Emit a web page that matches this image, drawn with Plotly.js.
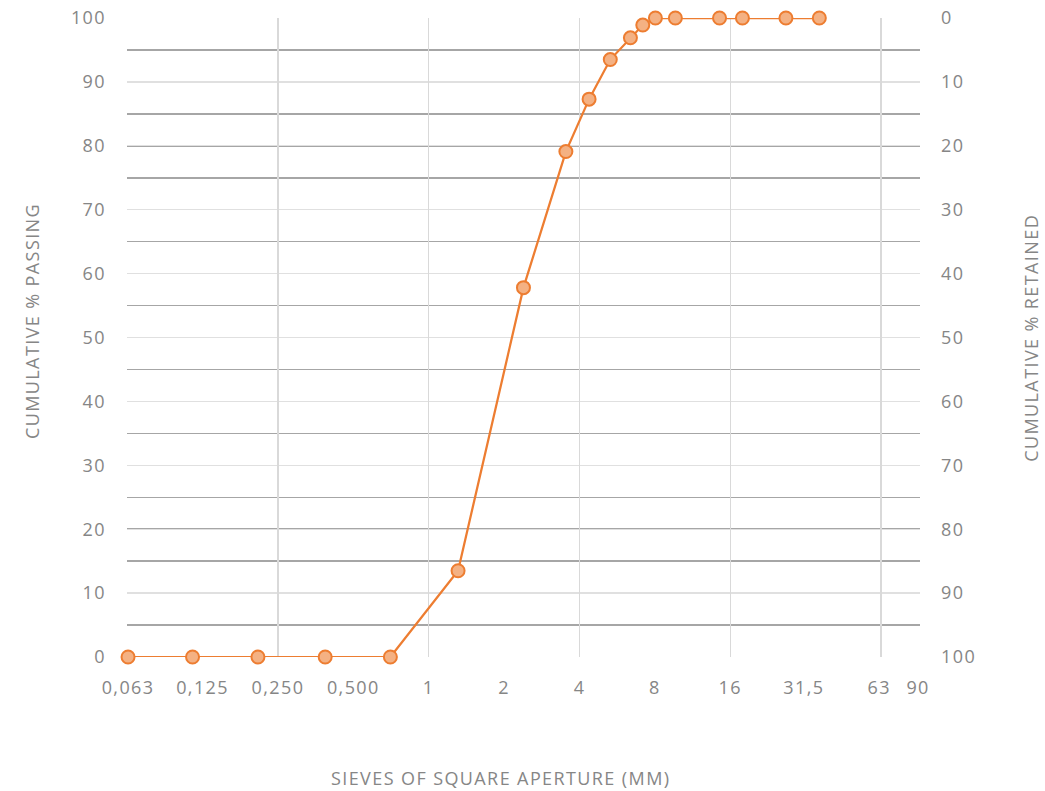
<!DOCTYPE html>
<html>
<head>
<meta charset="utf-8">
<script src="https://cdn.plot.ly/plotly-3.0.1.min.js"></script>
<style>
  html, body { margin: 0; padding: 0; background: #fff; }
  #chart { width: 1045px; height: 791px; }
  #chart svg text { letter-spacing: 1.4px; }
</style>
</head>
<body>
<div id="chart"></div>
<script>
// Sieve apertures (mm) as plotted, and cumulative % passing
const sieveSizes = [0.063, 0.114, 0.208, 0.386, 0.703, 1.31, 2.39, 3.53, 4.37, 5.31, 6.39, 7.16, 8.04, 9.66, 14.5, 17.9, 26.7, 36.3];
const passing    = [0, 0, 0, 0, 0, 13.5, 57.8, 79.1, 87.3, 93.5, 96.9, 98.9, 100, 100, 100, 100, 100, 100];
const retained   = passing.map(p => 100 - p);

// Axis tick labels
const xTickVals  = [0.063, 0.125, 0.25, 0.5, 1, 2, 4, 8, 16, 31.5, 63, 90];
const xTickText  = ["0,063", "0,125", "0,250", "0,500", "1", "2", "4", "8", "16", "31,5", "63", "90"];
const xGridVals  = [0.0625, 0.25, 1, 4, 16, 64];
const yTickVals  = [0, 10, 20, 30, 40, 50, 60, 70, 80, 90, 100];

const textColor = "#868686";
const fontFam = "'Open Sans', sans-serif";
const xRange = [Math.log10(0.0624), Math.log10(91.6)];

const traces = [
  {
    x: sieveSizes, y: passing,
    xaxis: "x", yaxis: "y",
    type: "scatter", mode: "lines+markers",
    line: { color: "#ED7D31", width: 2.25 },
    marker: { size: 13, color: "#F4B183", line: { color: "#ED7D31", width: 2 } },
    hoverinfo: "x+y", showlegend: false, cliponaxis: false
  },
  {
    x: sieveSizes, y: retained,
    xaxis: "x2", yaxis: "y2",
    type: "scatter", mode: "lines",
    line: { color: "rgba(0,0,0,0)", width: 0 },
    hoverinfo: "skip", showlegend: false
  }
];

const layout = {
  width: 1045, height: 791,
  margin: { l: 127, r: 125, t: 18, b: 134 },
  paper_bgcolor: "#ffffff", plot_bgcolor: "#ffffff",
  font: { family: fontFam, size: 18, color: textColor },
  showlegend: false,
  xaxis: {
    type: "log", range: xRange,
    tickmode: "array", tickvals: xTickVals, ticktext: xTickText,
    showgrid: false, zeroline: false, showline: false, ticks: "",
    ticklabelstandoff: 18,
    tickfont: { family: fontFam, size: 18, color: textColor }
  },
  xaxis2: {
    type: "log", range: xRange, overlaying: "x", side: "bottom",
    tickmode: "array", tickvals: xGridVals,
    showticklabels: false, showgrid: true, gridcolor: "#d9d9d9", gridwidth: 1.3,
    zeroline: false, showline: false, ticks: ""
  },
  yaxis: {
    range: [0, 100], tickmode: "array", tickvals: yTickVals,
    showgrid: true, gridcolor: "#e0e0e0", gridwidth: 1.3,
    minor: { dtick: 5, tick0: 0, showgrid: true, gridcolor: "#a6a6a6", gridwidth: 1.5, ticks: "" },
    zeroline: false, showline: false, ticks: "",
    ticklabelstandoff: 20,
    tickfont: { family: fontFam, size: 18, color: textColor }
  },
  yaxis2: {
    range: [100, 0], overlaying: "y", side: "right",
    tickmode: "array", tickvals: yTickVals,
    showgrid: false, zeroline: false, showline: false, ticks: "",
    ticklabelstandoff: 20,
    tickfont: { family: fontFam, size: 18, color: textColor }
  },
  annotations: [
    { text: "SIEVES OF SQUARE APERTURE (MM)", xref: "paper", yref: "paper",
      x: 0.4704, y: -0.189, xanchor: "center", yanchor: "middle", showarrow: false,
      font: { family: fontFam, size: 18, color: textColor } },
    { text: "CUMULATIVE % PASSING", xref: "paper", yref: "paper", textangle: -90,
      x: -0.1204, y: 0.525, xanchor: "center", yanchor: "middle", showarrow: false,
      font: { family: fontFam, size: 18, color: textColor } },
    { text: "CUMULATIVE % RETAINED", xref: "paper", yref: "paper", textangle: -90,
      x: 1.1395, y: 0.5, xanchor: "center", yanchor: "middle", showarrow: false,
      font: { family: fontFam, size: 18, color: textColor } }
  ]
};

Plotly.newPlot("chart", traces, layout, { displayModeBar: false, staticPlot: true });
</script>
</body>
</html>
